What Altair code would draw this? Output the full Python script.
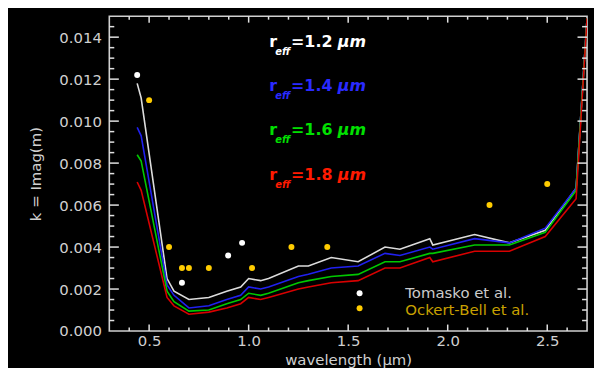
import altair as alt
import pandas as pd

# ---- data ----
wavelength = [0.44, 0.46, 0.59, 0.625, 0.70, 0.80, 0.89, 0.96, 1.0, 1.06, 1.1, 1.25,
              1.3, 1.415, 1.55, 1.685, 1.76, 1.91, 1.925, 2.135, 2.31, 2.49, 2.645, 2.70]
k_r12 = [0.0118, 0.0111, 0.0025, 0.0019, 0.0015, 0.0016, 0.0019, 0.0021, 0.0025, 0.0024, 0.0025, 0.0031,
         0.0031, 0.0035, 0.0033, 0.0040, 0.0039, 0.0044, 0.0041, 0.0046, 0.0042, 0.0048, 0.0068, 0.0149]
k_r14 = [0.0097, 0.0093, 0.0022, 0.0017, 0.0011, 0.0012, 0.0015, 0.0017, 0.0021, 0.0020, 0.0021, 0.0026,
         0.0027, 0.0030, 0.0031, 0.0037, 0.0036, 0.0040, 0.0039, 0.0044, 0.0042, 0.0049, 0.0068, 0.0149]
k_r16 = [0.0084, 0.0081, 0.0019, 0.0014, 0.00095, 0.0010, 0.0013, 0.0015, 0.0018, 0.0017, 0.0018, 0.0023,
         0.0024, 0.0026, 0.0027, 0.0033, 0.0033, 0.0037, 0.0037, 0.0041, 0.0041, 0.0047, 0.0067, 0.0149]
k_r18 = [0.0071, 0.0067, 0.0016, 0.0012, 0.0008, 0.0009, 0.0011, 0.0013, 0.0016, 0.0015, 0.0016, 0.0020,
         0.0021, 0.0023, 0.0024, 0.0030, 0.0030, 0.0035, 0.0033, 0.0038, 0.0038, 0.0045, 0.0063, 0.0149]

tomasko_wl = [0.44, 0.665, 0.897, 0.967]
tomasko_k = [0.0122, 0.0023, 0.0036, 0.0042]
ockert_wl = [0.5, 0.6, 0.665, 0.70, 0.8, 1.017, 1.215, 1.395, 2.21, 2.5]
ockert_k = [0.011, 0.004, 0.003, 0.003, 0.003, 0.003, 0.004, 0.004, 0.006, 0.007]

reff_labels = ["=1.2", "=1.4", "=1.6", "=1.8"]
line_colors = ["#dcdcdc", "#2020f0", "#00c800", "#d80000"]
text_colors = ["#ffffff", "#2a2aff", "#00e000", "#ff1a00"]

x_major = [0.5, 1.0, 1.5, 2.0, 2.5]
x_minor = [0.4, 0.6, 0.7, 0.8, 0.9, 1.1, 1.2, 1.3, 1.4, 1.6, 1.7, 1.8, 1.9,
           2.1, 2.2, 2.3, 2.4, 2.6]
y_major = [0.002, 0.004, 0.006, 0.008, 0.010, 0.012, 0.014]
y_minor = [0.0005, 0.001, 0.0015, 0.0025, 0.003, 0.0035, 0.0045, 0.005, 0.0055,
           0.0065, 0.007, 0.0075, 0.0085, 0.009, 0.0095, 0.0105, 0.011, 0.0115,
           0.0125, 0.013, 0.0135, 0.0145]
y_labels = [0.000, 0.002, 0.004, 0.006, 0.008, 0.010, 0.012, 0.014]

W, H = 481, 317
GRAY = "#d0d0d0"
TICK = "#e0e0e0"
FONT = "DejaVu Sans"

xscale = alt.Scale(domain=[0.3, 2.7], nice=False, zero=False)
yscale = alt.Scale(domain=[0.0, 0.015], nice=False)

x_enc = alt.X("wl:Q", scale=xscale, axis=alt.Axis(
    values=x_major, format=".1f", ticks=False, domain=False, grid=False,
    labelPadding=3, labelColor=GRAY, labelFontSize=15, labelFont=FONT,
    title="wavelength (μm)", titleColor=GRAY, titleFontSize=15, titleFont=FONT,
    titleFontWeight="normal", titlePadding=4))
y_enc = alt.Y("k:Q", scale=yscale, axis=alt.Axis(
    values=y_labels, format=".3f", ticks=False, domain=False, grid=False,
    labelPadding=8, labelColor=GRAY, labelFontSize=15, labelFont=FONT,
    title="k = Imag(m)", titleColor=GRAY, titleFontSize=15, titleFont=FONT,
    titleFontWeight="normal", titleX=-74, titleY=H / 2, titleAngle=-90,
    titleAlign="center", titleBaseline="middle"))

layers = []

# curves
for kv, col in zip([k_r12, k_r14, k_r16, k_r18], line_colors):
    df = pd.DataFrame({"wl": wavelength, "k": kv})
    layers.append(alt.Chart(df).mark_line(color=col, strokeWidth=1.6, clip=True)
                  .encode(x=x_enc, y=y_enc))

# measured points
df_t = pd.DataFrame({"wl": tomasko_wl, "k": tomasko_k})
df_o = pd.DataFrame({"wl": ockert_wl, "k": ockert_k})
layers.append(alt.Chart(df_t).mark_circle(color="#ffffff", size=36, opacity=1)
              .encode(x=alt.X("wl:Q", scale=xscale), y=alt.Y("k:Q", scale=yscale)))
layers.append(alt.Chart(df_o).mark_circle(color="#ffcc00", size=36, opacity=1)
              .encode(x=alt.X("wl:Q", scale=xscale), y=alt.Y("k:Q", scale=yscale)))

# inward tick marks (mirrored on all four sides)
def xticks(vals, length):
    d = pd.DataFrame({"wl": vals})
    bot = alt.Chart(d).mark_rule(color=TICK, strokeWidth=1.5).encode(
        x=alt.X("wl:Q", scale=xscale), y=alt.value(H), y2=alt.value(H - length))
    top = alt.Chart(d).mark_rule(color=TICK, strokeWidth=1.5).encode(
        x=alt.X("wl:Q", scale=xscale), y=alt.value(0), y2=alt.value(length))
    return [bot, top]

def yticks(vals, length):
    d = pd.DataFrame({"k": vals})
    left = alt.Chart(d).mark_rule(color=TICK, strokeWidth=1.5).encode(
        y=alt.Y("k:Q", scale=yscale), x=alt.value(0), x2=alt.value(length))
    right = alt.Chart(d).mark_rule(color=TICK, strokeWidth=1.5).encode(
        y=alt.Y("k:Q", scale=yscale), x=alt.value(W), x2=alt.value(W - length))
    return [left, right]

layers += xticks(x_major, 6.5) + xticks(x_minor, 3.5)
layers += yticks(y_major, 9.6) + yticks(y_minor, 5)

# r_eff legend
blank = pd.DataFrame({"a": [0]})
for i, (lab, col) in enumerate(zip(reff_labels, text_colors)):
    base_y = 31 + i * 44.5
    layers.append(alt.Chart(blank).mark_text(
        text="r", color=col, fontSize=16, font=FONT, fontWeight="bold", align="left",
        baseline="alphabetic").encode(x=alt.value(161), y=alt.value(base_y)))
    layers.append(alt.Chart(blank).mark_text(
        text="eff", color=col, fontSize=10, font=FONT, fontWeight="bold", fontStyle="italic",
        align="left", baseline="alphabetic").encode(x=alt.value(167), y=alt.value(base_y + 8)))
    layers.append(alt.Chart(blank).mark_text(
        text=lab, color=col, fontSize=16, font=FONT, fontWeight="bold", align="left",
        baseline="alphabetic").encode(x=alt.value(183), y=alt.value(base_y)))
    layers.append(alt.Chart(blank).mark_text(
        text="μm", color=col, fontSize=16, font=FONT, fontWeight="bold", fontStyle="italic",
        align="left", baseline="alphabetic").encode(x=alt.value(230), y=alt.value(base_y)))

# data-source legend
layers.append(alt.Chart(blank).mark_circle(color="#ffffff", size=36, opacity=1)
              .encode(x=alt.value(252), y=alt.value(279)))
layers.append(alt.Chart(blank).mark_circle(color="#ffcc00", size=36, opacity=1)
              .encode(x=alt.value(252), y=alt.value(294)))
layers.append(alt.Chart(blank).mark_text(
    text="Tomasko et al.", color="#cccccc", fontSize=15, font=FONT, align="left",
    baseline="middle").encode(x=alt.value(298), y=alt.value(279)))
layers.append(alt.Chart(blank).mark_text(
    text="Ockert-Bell et al.", color="#c8a000", fontSize=15, font=FONT, align="left",
    baseline="middle").encode(x=alt.value(298), y=alt.value(295.5)))

chart = alt.layer(*layers).properties(
    width=W, height=H,
    autosize=alt.AutoSizeParams(type="none"),
    padding={"left": 102, "top": 7, "right": 7, "bottom": 36},
    background="#000000",
).configure_view(stroke=GRAY, strokeWidth=1.6)

chart.save("out.html", embed_options={"renderer": "svg", "actions": False})
